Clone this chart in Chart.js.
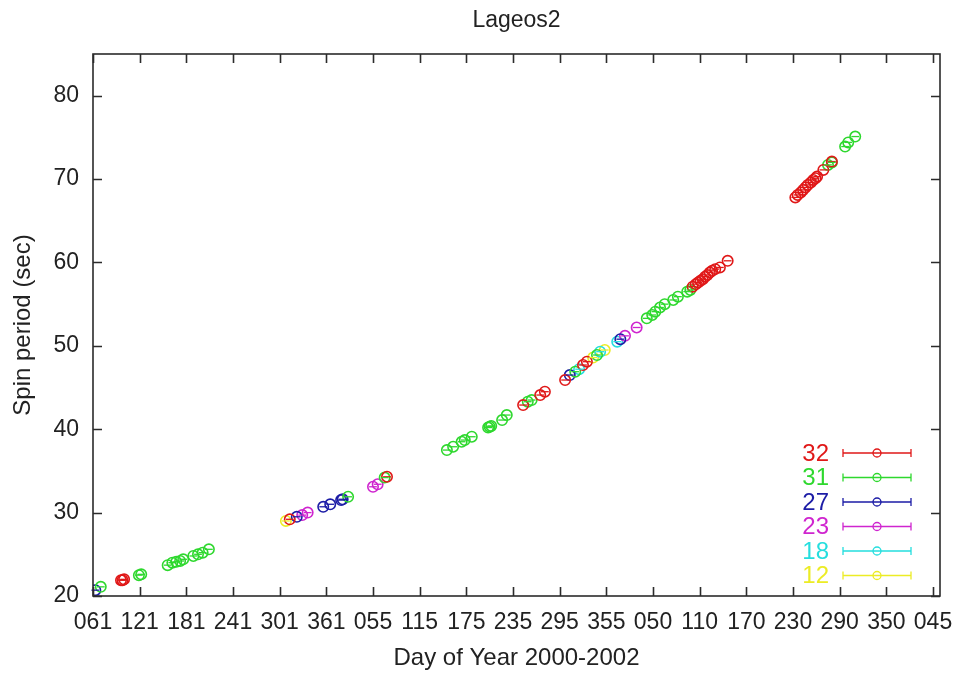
<!DOCTYPE html>
<html>
<head>
<meta charset="utf-8">
<title>Lageos2</title>
<script src="https://cdn.jsdelivr.net/npm/chart.js@4.4.1/dist/chart.umd.min.js"></script>
<style>
  html, body { margin: 0; padding: 0; background: #fff; }
  #grafico { display: block; }
</style>
</head>
<body>
<canvas id="grafico" width="956" height="673"></canvas>
<script>
// x values are days counted from 1 Jan 2000 (day 366 = 31 Dec 2000, 2000 is a leap year)
const seriesNames = ['32', '31', '27', '23', '18', '12'];
const seriesColors = ['#e01818', '#2ed82e', '#1c1ca6', '#cf25cf', '#25dede', '#ecec25'];

const days32 = [97, 99, 101, 314, 439, 614, 636, 642, 668, 691, 696, 832, 836, 839, 842, 845, 848, 851, 854, 857, 861, 867, 877, 964, 967, 971, 974, 977, 980, 984, 987, 990, 992, 1000, 1011];
const period32 = [21.9, 21.9, 22.0, 29.2, 34.3, 42.9, 44.1, 44.5, 45.9, 47.7, 48.1, 57.1, 57.4, 57.6, 57.8, 58.0, 58.3, 58.5, 58.8, 59.0, 59.2, 59.4, 60.2, 67.8, 68.1, 68.4, 68.7, 69.0, 69.3, 69.6, 69.9, 70.1, 70.3, 71.1, 72.1];

const days31 = [71, 120, 123, 157, 163, 168, 173, 177, 190, 196, 202, 210, 389, 436, 516, 524, 535, 539, 548, 569, 571, 573, 587, 593, 620, 625, 681, 709, 773, 780, 784, 790, 796, 807, 813, 825, 829, 1006, 1011, 1028, 1032, 1041];
const period31 = [21.1, 22.5, 22.6, 23.7, 24.0, 24.1, 24.2, 24.4, 24.8, 25.0, 25.2, 25.6, 31.9, 34.2, 37.5, 37.9, 38.5, 38.7, 39.1, 40.2, 40.3, 40.4, 41.1, 41.7, 43.3, 43.5, 46.9, 48.9, 53.3, 53.7, 54.1, 54.6, 55.0, 55.5, 55.9, 56.5, 56.7, 71.7, 72.0, 73.9, 74.4, 75.1];

const days27 = [64, 323, 357, 366, 380, 382, 674, 739];
const period27 = [20.7, 29.5, 30.7, 31.0, 31.5, 31.6, 46.5, 50.8];

const days23 = [330, 337, 421, 427, 745, 760];
const period23 = [29.7, 30.0, 33.1, 33.4, 51.2, 52.2];

const days18 = [686, 713, 735];
const period18 = [47.2, 49.3, 50.5];

const days12 = [309, 704, 719];
const period12 = [29.0, 48.6, 49.5];

const xTickValues = [61, 121, 181, 241, 301, 361, 421, 481, 541, 601, 661, 721, 781, 841, 901, 961, 1021, 1081, 1141];
const xTickLabels = ['061', '121', '181', '241', '301', '361', '055', '115', '175', '235', '295', '355', '050', '110', '170', '230', '290', '350', '045'];
const yTickValues = [20, 30, 40, 50, 60, 70, 80];
const xErrorDays = 5;

const fonte = '"Liberation Sans", Arial, Helvetica, sans-serif';
const corEixo = '#2b2b2b';

function montarPontos(dias, periodos) {
  return dias.map((d, i) => ({ x: d, y: periodos[i] }));
}

const allDays = [days32, days31, days27, days23, days18, days12];
const allPeriods = [period32, period31, period27, period23, period18, period12];

const datasets = seriesNames.map((nome, i) => ({
  label: nome,
  data: montarPontos(allDays[i], allPeriods[i]),
  borderColor: seriesColors[i],
  backgroundColor: 'rgba(0,0,0,0)',
  pointStyle: 'circle',
  pointRadius: 5.2,
  pointBorderWidth: 1.6,
  showLine: false
}));

// error bars, frame with inward ticks, legend and title, gnuplot style
const gnuplotPlugin = {
  id: 'gnuplotPlugin',
  afterDatasetsDraw(chart) {
    const ctx = chart.ctx;
    const xs = chart.scales.x, ys = chart.scales.y;
    ctx.save();
    ctx.lineWidth = 1.3;
    chart.data.datasets.forEach(ds => {
      ctx.strokeStyle = ds.borderColor;
      ds.data.forEach(p => {
        const y = ys.getPixelForValue(p.y);
        ctx.beginPath();
        ctx.moveTo(xs.getPixelForValue(p.x - xErrorDays), y);
        ctx.lineTo(xs.getPixelForValue(p.x + xErrorDays), y);
        ctx.stroke();
      });
    });
    ctx.restore();
  },
  afterDraw(chart) {
    const ctx = chart.ctx;
    const { left, right, top, bottom } = chart.chartArea;
    const xs = chart.scales.x, ys = chart.scales.y;
    const tick = 9;
    ctx.save();
    ctx.strokeStyle = corEixo;
    ctx.lineWidth = 1.6;
    ctx.strokeRect(left, top, right - left, bottom - top);
    ctx.beginPath();
    xTickValues.forEach(v => {
      const x = Math.round(xs.getPixelForValue(v)) + 0.5;
      ctx.moveTo(x, bottom); ctx.lineTo(x, bottom - tick);
      ctx.moveTo(x, top); ctx.lineTo(x, top + tick);
    });
    yTickValues.forEach(v => {
      const y = Math.round(ys.getPixelForValue(v)) + 0.5;
      ctx.moveTo(left, y); ctx.lineTo(left + tick, y);
      ctx.moveTo(right, y); ctx.lineTo(right - tick, y);
    });
    ctx.stroke();

    // title
    ctx.fillStyle = '#222';
    ctx.font = '23px ' + fonte;
    ctx.textAlign = 'center';
    ctx.textBaseline = 'middle';
    ctx.fillText('Lageos2', (left + right) / 2, 21);

    // legend
    const linhaIni = 843, linhaFim = 911, centro = 877;
    ctx.font = '24px ' + fonte;
    ctx.textAlign = 'right';
    seriesNames.forEach((nome, i) => {
      const y = 453 + i * 24.5;
      ctx.fillStyle = seriesColors[i];
      ctx.fillText(nome, 829, y + 1);
      ctx.strokeStyle = seriesColors[i];
      ctx.lineWidth = 1.3;
      ctx.beginPath();
      ctx.moveTo(linhaIni, y); ctx.lineTo(linhaFim, y);
      ctx.moveTo(linhaIni, y - 4); ctx.lineTo(linhaIni, y + 4);
      ctx.moveTo(linhaFim, y - 4); ctx.lineTo(linhaFim, y + 4);
      ctx.stroke();
      ctx.beginPath();
      ctx.arc(centro, y, 4, 0, Math.PI * 2);
      ctx.stroke();
    });
    ctx.restore();
  }
};

new Chart(document.getElementById('grafico').getContext('2d'), {
  type: 'scatter',
  data: { datasets },
  options: {
    responsive: false,
    animation: false,
    events: [],
    layout: { padding: { top: 54, right: 16, left: 0, bottom: 0 } },
    plugins: {
      legend: { display: false },
      tooltip: { enabled: false }
    },
    scales: {
      x: {
        type: 'linear',
        min: 61,
        max: 1150,
        afterBuildTicks: scale => { scale.ticks = xTickValues.map(v => ({ value: v })); },
        afterFit: scale => {
          scale.height = 77;
          scale.paddingLeft = 0;
          scale.paddingRight = 0;
        },
        grid: { display: false, drawTicks: false },
        border: { display: false },
        ticks: {
          autoSkip: false,
          maxRotation: 0,
          padding: 13,
          color: '#222',
          font: { family: fonte, size: 23 },
          callback: (v, i) => xTickLabels[i]
        },
        title: {
          display: true,
          text: 'Day of Year 2000-2002',
          color: '#222',
          font: { family: fonte, size: 24, lineHeight: 1 },
          padding: { top: 0, bottom: 3 }
        }
      },
      y: {
        type: 'linear',
        min: 20,
        max: 85,
        afterBuildTicks: scale => { scale.ticks = yTickValues.map(v => ({ value: v })); },
        afterFit: scale => {
          scale.width = 93;
          scale.paddingTop = 0;
          scale.paddingBottom = 0;
        },
        grid: { display: false, drawTicks: false },
        border: { display: false },
        ticks: {
          padding: 14,
          color: '#222',
          font: { family: fonte, size: 23 }
        },
        title: {
          display: true,
          text: 'Spin period (sec)',
          color: '#222',
          font: { family: fonte, size: 24, lineHeight: 1 },
          padding: { top: 11, bottom: 0 }
        }
      }
    }
  },
  plugins: [gnuplotPlugin]
});
</script>
</body>
</html>
